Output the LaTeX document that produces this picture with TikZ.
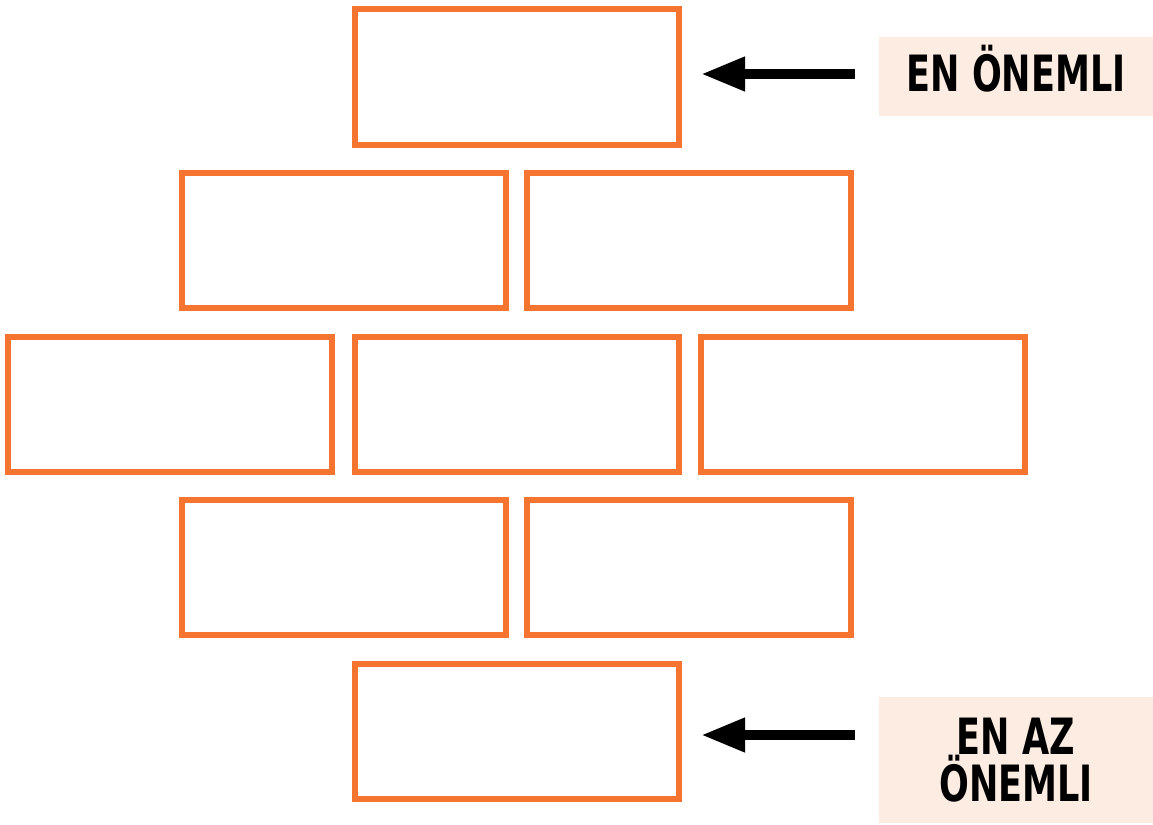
\documentclass[tikz,border=0pt]{standalone}
\usepackage{fontspec}
\newfontfamily\tagfont[FakeStretch=0.78]{DejaVu Sans Condensed}
\usetikzlibrary{arrows.meta}
\newlength{\du}
\setlength{\du}{1pt}
\definecolor{brickorange}{rgb}{0.957,0.455,0.188}
\definecolor{tagpeach}{rgb}{0.992,0.925,0.882}
\tikzset{
  brick/.style={draw=brickorange, line width=6\du, minimum width=324\du,
    minimum height=135\du, inner sep=0pt},
  tag/.style={fill=tagpeach, minimum width=274\du, inner sep=0pt, align=center,
    font=\tagfont\bfseries\fontsize{50}{46}\selectfont},
  pointer/.style={line width=10pt, -{Triangle[length=44pt,width=32pt]}}
}

\begin{document}
\begin{tikzpicture}
\pgftransformyscale{-1.000000}
\useasboundingbox (0\du,0\du) rectangle (1153\du,824\du);
% bricks, top row to bottom row
\node[brick] (b1) at (517\du,77\du) {};
\node[brick] (b2a) at (344\du,240\du) {};
\node[brick] (b2b) at (689\du,240\du) {};
\node[brick] (b3a) at (170\du,404\du) {};
\node[brick] (b3b) at (517\du,404\du) {};
\node[brick] (b3c) at (863\du,404\du) {};
\node[brick] (b4a) at (344\du,567.5\du) {};
\node[brick] (b4b) at (689\du,567.5\du) {};
\node[brick] (b5) at (517\du,731.5\du) {};
% tags
\node[tag, minimum height=79\du, text depth=17pt] (most) at (1016\du,76.5\du) {EN ÖNEMLI};
\node[tag, minimum height=126\du] (least) at (1016\du,760\du) {EN AZ\\ÖNEMLI};
\coordinate (b1r) at (679\du,74\du);
\coordinate (b5r) at (679\du,735\du);
\draw[pointer, shorten <=24pt, shorten >=22pt] (most.west |- b1r) -- (b1r);
\draw[pointer, shorten <=24pt, shorten >=22pt] (least.west |- b5r) -- (b5r);
\end{tikzpicture}
\end{document}
